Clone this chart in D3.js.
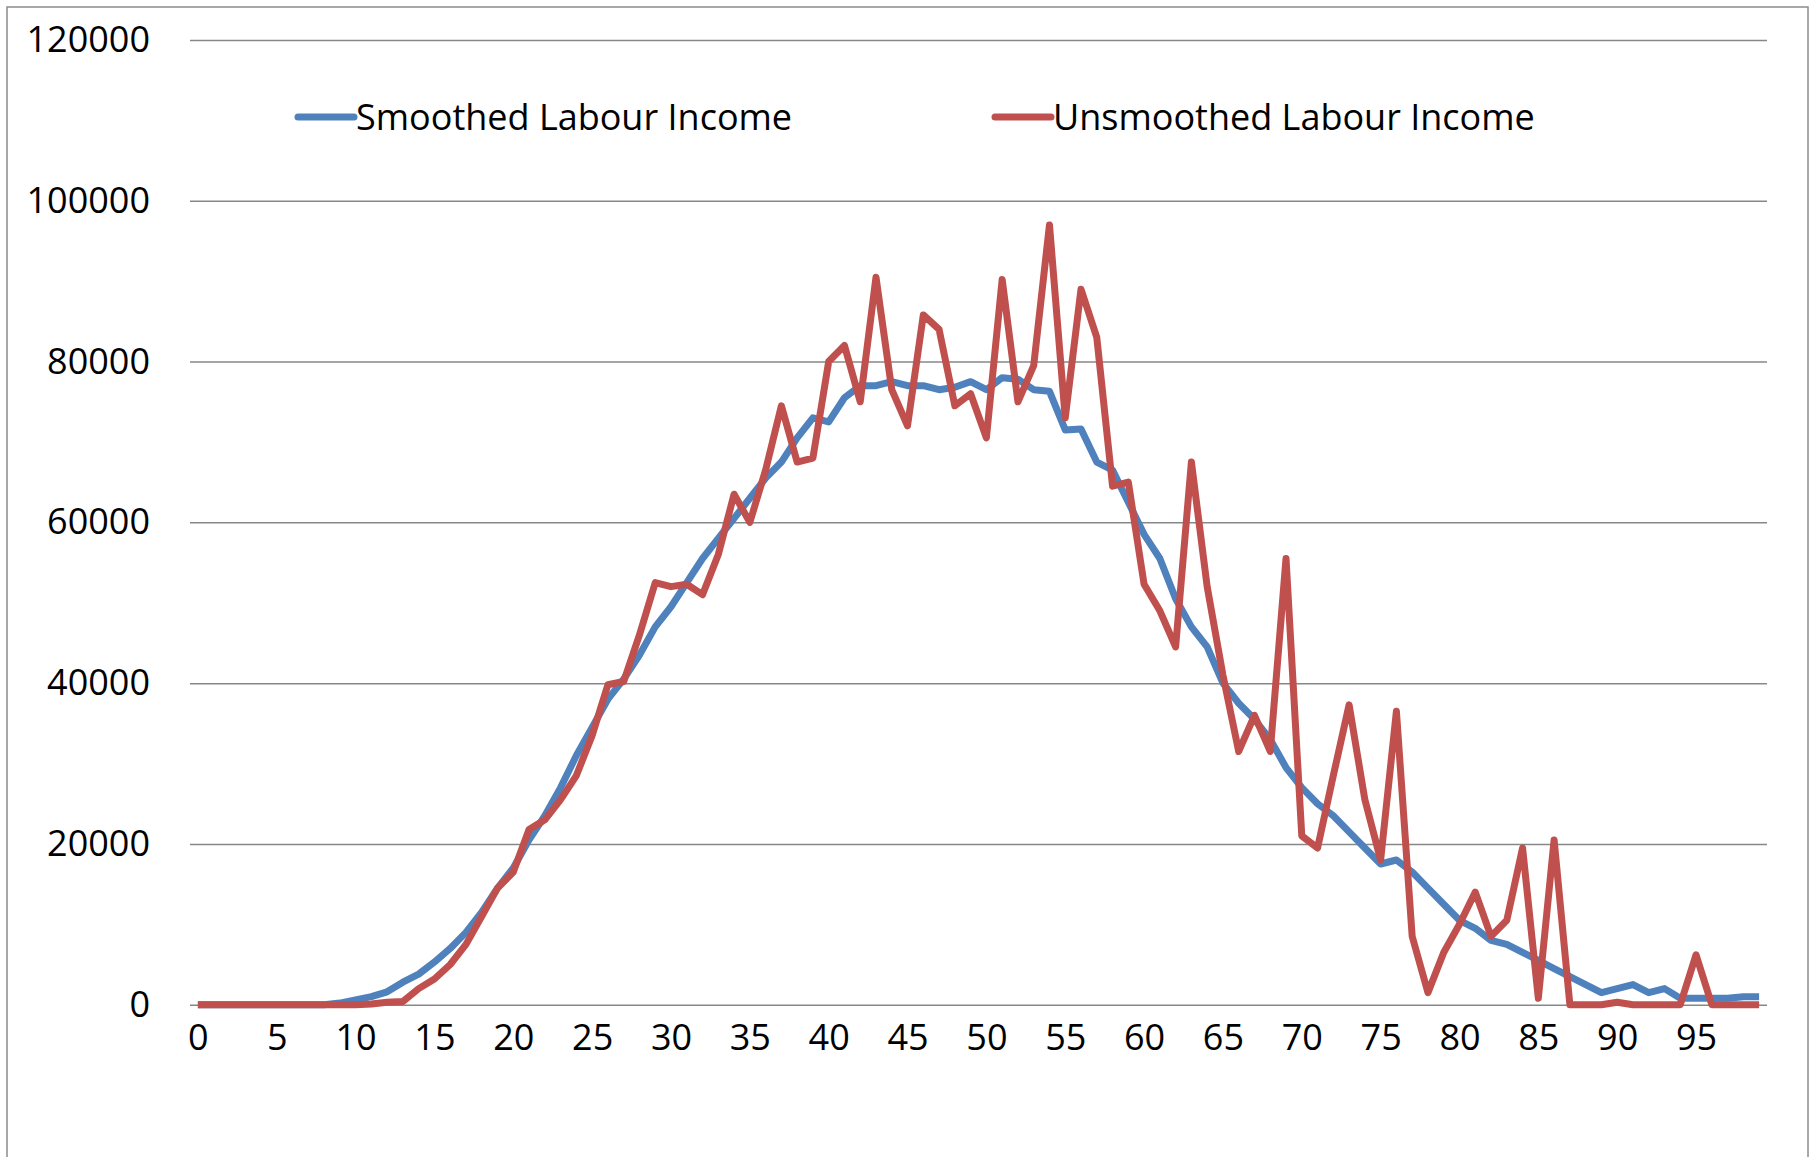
<!DOCTYPE html>
<html>
<head>
<meta charset="utf-8">
<script src="https://cdn.jsdelivr.net/npm/d3@7"></script>
<style>
    body { margin: 0; background: #fff; }
    svg { display: block; font-family: "Open Sans", sans-serif; }
</style>
</head>
<body>
<div id="container"><svg></svg></div>
<script>
// ages 0..99
let ages = d3.range(0, 100);

let smoothed = [
    0, 0, 0, 0, 0, 0, 0, 0, 0, 200,
    600, 1000, 1600, 2800, 3800, 5300, 7000, 9000, 11500, 14500,
    17000, 20500, 23500, 27000, 31000, 34500, 38000, 40500, 43500, 47000,
    49500, 52500, 55500, 58000, 60500, 63000, 65500, 67500, 70500, 73000,
    72500, 75500, 77000, 77000, 77500, 77000, 77000, 76500, 76800, 77500,
    76500, 78000, 77800, 76500, 76300, 71500, 71600, 67500, 66500, 62500,
    58500, 55500, 50500, 47000, 44500, 40000, 37500, 35500, 33000, 29500,
    27000, 25000, 23500, 21500, 19500, 17500, 18000, 16500, 14500, 12500,
    10500, 9500, 8000, 7500, 6500, 5500, 4500, 3500, 2500, 1500,
    2000, 2500, 1500, 2000, 800, 800, 800, 800, 1000, 1000
];

let unsmoothed = [
    0, 0, 0, 0, 0, 0, 0, 0, 0, 0,
    0, 100, 300, 400, 2000, 3200, 5000, 7500, 11000, 14500,
    16500, 21800, 23000, 25500, 28500, 33500, 39800, 40200, 46000, 52500,
    52000, 52300, 51000, 56000, 63500, 60000, 66500, 74500, 67500, 68000,
    80000, 82000, 75000, 90500, 76500, 72000, 85800, 84000, 74500, 76000,
    70500, 90200, 75000, 79500, 97000, 73000, 89000, 83000, 64500, 65000,
    52300, 49000, 44500, 67500, 52000, 41000, 31500, 36000, 31500, 55500,
    21000, 19500, 28500, 37300, 25500, 18000, 36500, 8500, 1500, 6500,
    10000, 14000, 8500, 10500, 19500, 800, 20500, 0, 0, 0,
    300, 0, 0, 0, 0, 6200, 0, 0, 0, 0
];

let series_names = ['Smoothed Labour Income', 'Unsmoothed Labour Income'];
let series_colors = ['#4F81BD', '#C0504D'];
let y_ticks = [0, 20000, 40000, 60000, 80000, 100000, 120000];
let x_ticks = d3.range(0, 100, 5);

let width = 1812;
let height = 1157;
let fontSize = 36;

function draw_main() {
    let plot = { 'left': 190, 'right': 1767, 'top': 40, 'bottom': 1004.7 };
    let svg = d3.select('#container')
        .select('svg')
        .attr('width', width)
        .attr('height', height);

    // chart border
    svg.append('rect')
        .attr('x', 7)
        .attr('y', 7)
        .attr('width', 1801)
        .attr('height', height)
        .attr('fill', 'none')
        .attr('stroke', '#8c8c8c')
        .attr('stroke-width', 1.5);

    let x = d3.scalePoint()
        .domain(ages)
        .range([plot.left, plot.right])
        .padding(0.5);

    let y = d3.scaleLinear()
        .domain([0, 120000])
        .range([plot.bottom, plot.top]);

    // gridlines + y labels
    let axis_y = d3.axisLeft()
        .scale(y)
        .tickValues(y_ticks)
        .tickSize(-(plot.right - plot.left))
        .tickPadding(40)
        .tickFormat(d => d);
    let gy = svg.append('g')
        .attr('transform', `translate(${plot.left}, 0)`)
        .call(axis_y)
        .attr('font-family', '"Open Sans", sans-serif')
        .attr('font-size', fontSize);
    gy.select('.domain').remove();
    gy.selectAll('line').attr('stroke', '#878787').attr('stroke-width', 1.5);
    gy.selectAll('text').attr('fill', '#000');

    // x labels
    let axis_x = d3.axisBottom()
        .scale(x)
        .tickValues(x_ticks)
        .tickSize(0)
        .tickPadding(20)
        .tickFormat(d => d);
    let gx = svg.append('g')
        .attr('transform', `translate(0, ${plot.bottom})`)
        .call(axis_x)
        .attr('font-family', '"Open Sans", sans-serif')
        .attr('font-size', fontSize);
    gx.select('.domain').remove();
    gx.selectAll('text').attr('fill', '#000');

    // lines
    let line = d3.line()
        .x((d, i) => x(ages[i]))
        .y(d => y(d));

    [smoothed, unsmoothed].forEach((vals, k) => {
        svg.append('path')
            .datum(vals)
            .attr('d', line)
            .attr('fill', 'none')
            .attr('stroke', series_colors[k])
            .attr('stroke-width', 7)
            .attr('stroke-linejoin', 'round');
    });

    // legend
    let legend_x = [298, 995];
    let legend = svg.append('g')
        .selectAll('g')
        .data(series_names)
        .enter().append('g')
        .attr('transform', (d, i) => `translate(${legend_x[i]}, 117)`);
    legend.append('line')
        .attr('x1', 0)
        .attr('x2', 56)
        .attr('stroke', (d, i) => series_colors[i])
        .attr('stroke-width', 7)
        .attr('stroke-linecap', 'round');
    legend.append('text')
        .attr('x', 58)
        .attr('dy', '0.35em')
        .attr('font-size', fontSize)
        .attr('fill', '#000')
        .text(d => d);
}

draw_main();
</script>
</body>
</html>
